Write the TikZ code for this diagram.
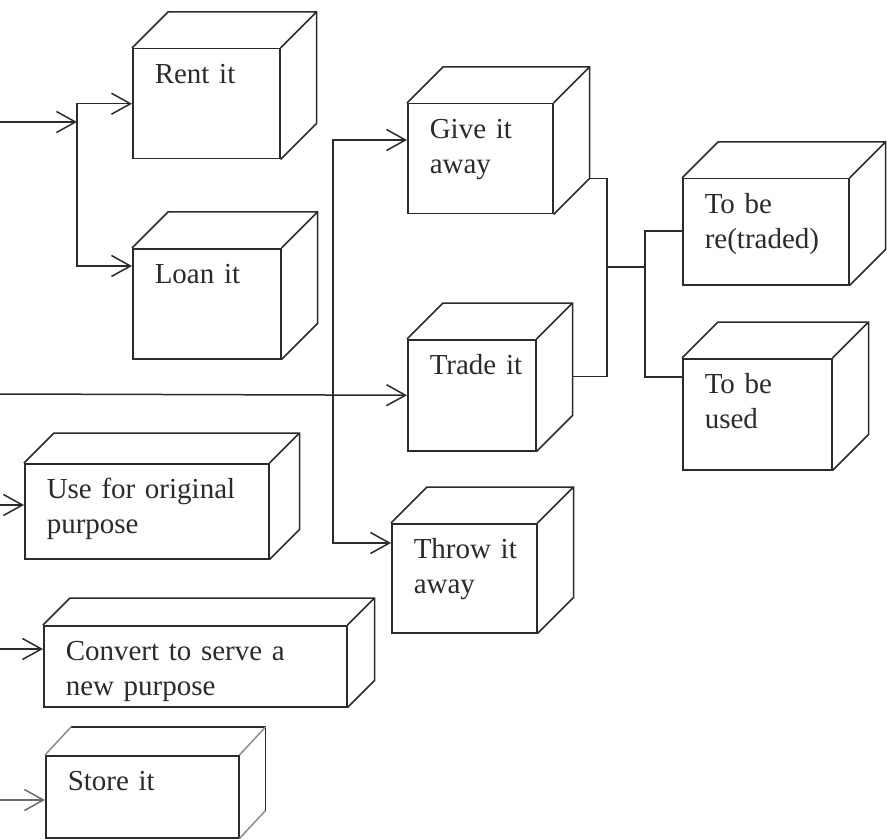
\documentclass[tikz,border=0pt]{standalone}
\usepackage{fontspec}
\setmainfont{Liberation Serif}
\usetikzlibrary{arrows.meta}
\definecolor{ink}{HTML}{2B2B2B}
\definecolor{faded}{HTML}{8C8C8C}

\begin{document}
\begin{tikzpicture}[
  x=1pt, y=-1pt,
  font=\fontsize{29}{35}\selectfont,
  crate/.style = {draw=ink, line width=1.5pt, fill=white, anchor=north west,
                  align=left, text=ink, inner xsep=22pt, inner ysep=0pt,
                  text height=35pt},
  size/.style 2 args = {text width=#1-44pt, text depth=#2-35pt},
  wire/.style  = {draw=ink, line width=1.5pt},
  arr/.style   = {wire, -{Straight Barb[length=19pt,width=21pt]}},
]
\useasboundingbox (0,0) rectangle (887,840);

% front faces
\node[crate, size={147pt}{110pt}] (rent)    at (132,48)  {Rent it};
\node[crate, size={148pt}{110pt}] (loan)    at (132,248) {Loan it};
\node[crate, size={145pt}{110pt}] (give)    at (407,103) {Give it\\away};
\node[crate, size={128pt}{111pt}] (trade)   at (407,339) {Trade~it};
\node[crate, size={145pt}{109pt}] (throw)   at (391,523) {Throw~it\\away};
\node[crate, size={166pt}{106pt}] (retrade) at (682,178) {To be\\re(traded)};
\node[crate, size={149pt}{111pt}] (used)    at (682,358) {To be\\used};
\node[crate, size={244pt}{95pt}]  (orig)    at (24,463)  {Use for original\\purpose};
\node[crate, size={303pt}{81pt}]  (conv)    at (43,625)  {Convert to serve a\\new purpose};
\node[crate, size={193pt}{82pt}]  (store)   at (45,755)  {Store it};

% top and side faces
\foreach \n/\d in {rent/36, loan/36, give/36, trade/36, throw/36,
                   retrade/36, used/36, orig/30, conv/27}
  \draw[wire] (\n.north west) -- ++(\d,-\d) -| ([shift={(\d,-\d)}]\n.south east)
              -- (\n.south east) (\n.north east) -- ++(\d,-\d);
% store: back edges dark, slanted ones pale
\draw[wire] ([shift={(26,-28)}]store.north west) -| ([shift={(26,-28)}]store.south east);
\draw[wire, draw=faded] (store.north west) -- ++(26,-28)
            (store.north east) -- ++(26,-28)
            (store.south east) -- ++(26,-28);

% first fork
\coordinate (in1) at (0,122);
\coordinate (fork1) at (77,122);
\draw[arr] (in1) -- (fork1);
\draw[arr] (fork1) |- (rent.west);
\draw[arr] (fork1) |- ([yshift=-18pt]loan.north west);

% second fork, through trade
\coordinate (in2) at (0,394);
\coordinate (fork2) at (333,394);
\draw[arr] (in2) -- (trade.west);
\draw[arr] (fork2) |- ([yshift=-37pt]give.north west);
\draw[arr] (fork2) |- ([yshift=-20pt]throw.north west);

% give and trade join, then split again
\coordinate (join) at (607,267);
\coordinate (fork3) at (645,267);
\draw[wire] ([shift={(36,-36)}]give.south east) -| (join) |- ([shift={(36,-75)}]trade.south east);
\draw[wire] (join) -- (fork3);
\draw[wire] (fork3) |- ([yshift=-53pt]retrade.north west);
\draw[wire] (fork3) |- ([yshift=-19pt]used.north west);

% single arrows on the left
\coordinate (in3) at (0,505);
\coordinate (in4) at (0,649);
\coordinate (in5) at (0,800);
\draw[arr] (in3) -- (in3 -| orig.west);
\draw[arr] (in4) -- (in4 -| conv.west);
\draw[arr, draw=ink!70] (in5) -- (in5 -| store.west);

\end{tikzpicture}
\end{document}
